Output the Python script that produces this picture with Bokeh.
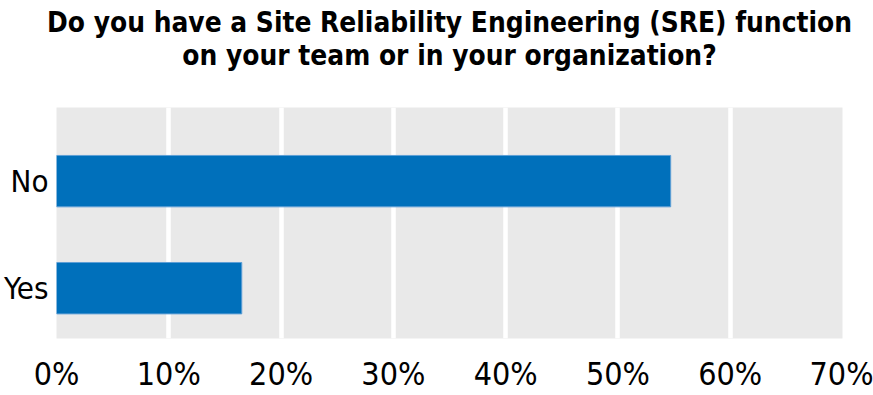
from bokeh.plotting import figure
from bokeh.models import Range1d, FixedTicker, PrintfTickFormatter, Title
from bokeh.embed import file_html
from bokeh.resources import INLINE

# Data
categories = ["Yes", "No"]          # bottom to top
values = [16.5, 54.7]               # percent of respondents
x_ticks = [0, 10, 20, 30, 40, 50, 60, 70]
title_lines = ["Do you have a Site Reliability Engineering (SRE) function",
               "on your team or in your organization?"]

positions = list(range(len(categories)))

FONT = "DejaVu Sans Condensed"

p = figure(
    width=873, height=395,
    x_range=Range1d(0, 70),
    y_range=Range1d(-0.47, 1.688),
    output_backend="svg", toolbar_location=None,
    min_border_left=53, min_border_right=31,
    min_border_top=106, min_border_bottom=57,
)

p.hbar(y=positions, right=values, left=0, height=0.48,
       fill_color="#0070bb", line_color="#5f9fd6", line_width=1)

p.background_fill_color = "#e9e9e9"
p.border_fill_color = "white"
p.outline_line_color = None

# two-line title, each line centred; line 2 carries a large standoff (gap above the plot)
# and line 1 a negative one so the two lines sit close together
p.title.visible = False
for txt, so in ((title_lines[1], 72), (title_lines[0], -76)):
    p.add_layout(Title(text=txt, align="center", text_font=FONT,
                       text_font_style="bold", text_font_size="27.8px",
                       text_color="black", standoff=so), "above")

# x axis
p.xaxis.ticker = FixedTicker(ticks=x_ticks)
p.xaxis.formatter = PrintfTickFormatter(format="%d%%")
p.xaxis.axis_line_color = None
p.xaxis.major_tick_line_color = None
p.xaxis.minor_tick_line_color = None
p.xaxis.major_tick_out = 0
p.xaxis.major_label_standoff = 16
p.xaxis.major_label_text_font = FONT
p.xaxis.major_label_text_font_size = "32px"
p.xaxis.major_label_text_color = "black"

# y axis
p.yaxis.ticker = FixedTicker(ticks=positions)
p.yaxis.major_label_overrides = {i: c for i, c in zip(positions, categories)}
p.yaxis.axis_line_color = None
p.yaxis.major_tick_line_color = None
p.yaxis.minor_tick_line_color = None
p.yaxis.major_tick_out = 0
p.yaxis.major_label_standoff = 8
p.yaxis.major_label_text_font = FONT
p.yaxis.major_label_text_font_size = "31px"
p.yaxis.major_label_text_color = "black"

# grid
p.xgrid.ticker = FixedTicker(ticks=x_ticks)
p.xgrid.grid_line_color = "white"
p.xgrid.grid_line_width = 4.5
p.ygrid.grid_line_color = None

open("out.html", "w").write(file_html(p, INLINE))
